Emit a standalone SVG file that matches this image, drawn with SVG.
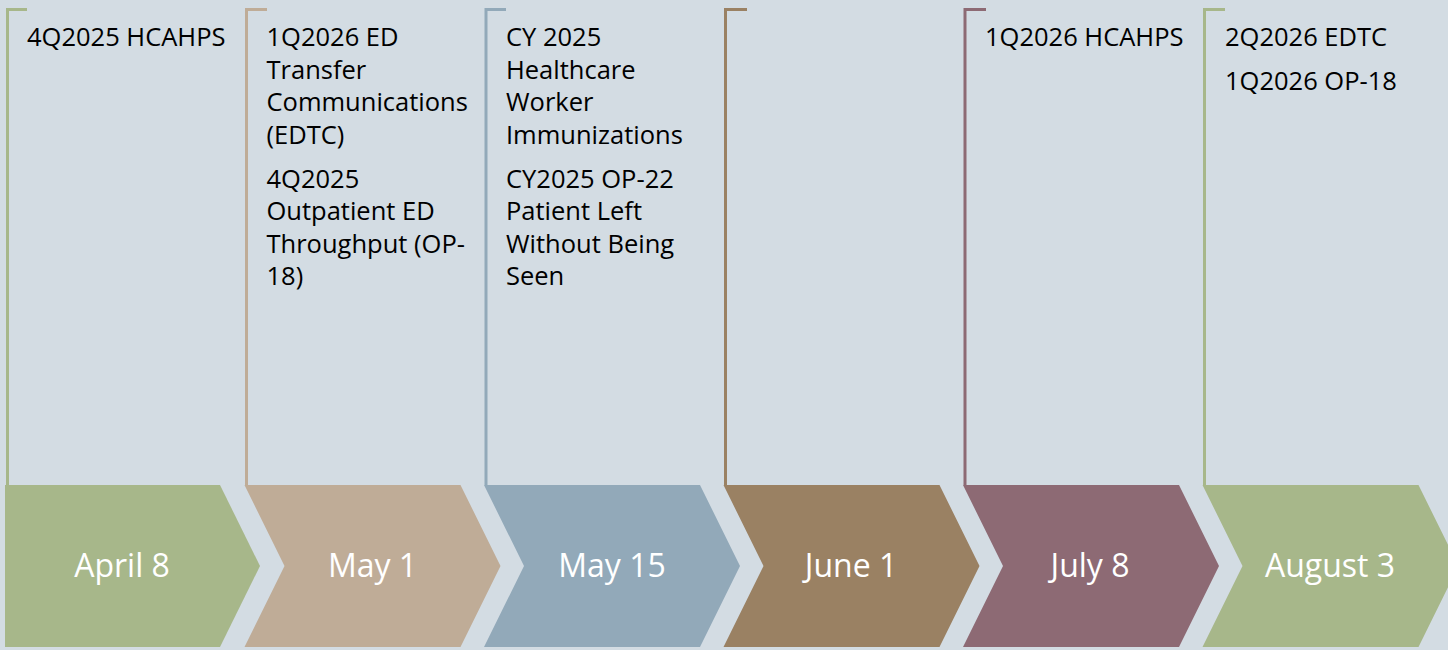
<svg xmlns="http://www.w3.org/2000/svg" width="1448" height="650" viewBox="0 0 1448 650">
<style>
.lbl{font-family:"Open Sans","Liberation Sans",sans-serif;font-size:25.5px;fill:#000}
.date{font-family:"Open Sans","Liberation Sans",sans-serif;font-size:32px;fill:#fff;text-anchor:middle}
.ln{fill:none;stroke-width:3}
</style>
<rect x="0" y="0" width="1448" height="650" fill="#D3DCE3"/>
<g id="node-april8">
<path class="ln" stroke="#A7B78A" d="M7.5 485V9.5H27"/>
<path d="M5 485H220L260 566L220 647H5Z" fill="#A7B78A"/>
<text class="date" x="122" y="577">April 8</text>
<text class="lbl" x="27" y="46">4Q2025 HCAHPS</text>
</g>
<g id="node-may1">
<path class="ln" stroke="#BFAC97" d="M246.5 485V9.5H267"/>
<path d="M244.5 485H460.5L500.5 566L460.5 647H244.5L284.5 566Z" fill="#BFAC97"/>
<text class="date" x="372.5" y="577">May 1</text>
<text class="lbl" x="266.5" y="46">1Q2026 ED</text>
<text class="lbl" x="266.5" y="78.5">Transfer</text>
<text class="lbl" x="266.5" y="111">Communications</text>
<text class="lbl" x="266.5" y="143.5">(EDTC)</text>
<text class="lbl" x="266.5" y="187.5">4Q2025</text>
<text class="lbl" x="266.5" y="220">Outpatient ED</text>
<text class="lbl" x="266.5" y="252.5">Throughput (OP-</text>
<text class="lbl" x="266.5" y="285">18)</text>
</g>
<g id="node-may15">
<path class="ln" stroke="#92A9B9" d="M486 485V9.5H506"/>
<path d="M484 485H700L740 566L700 647H484L524 566Z" fill="#92A9B9"/>
<text class="date" x="612" y="577">May 15</text>
<text class="lbl" x="506" y="46">CY 2025</text>
<text class="lbl" x="506" y="78.5">Healthcare</text>
<text class="lbl" x="506" y="111">Worker</text>
<text class="lbl" x="506" y="143.5">Immunizations</text>
<text class="lbl" x="506" y="187.5">CY2025 OP-22</text>
<text class="lbl" x="506" y="220">Patient Left</text>
<text class="lbl" x="506" y="252.5">Without Being</text>
<text class="lbl" x="506" y="285">Seen</text>
</g>
<g id="node-june1">
<path class="ln" stroke="#9A8163" d="M725.5 485V9.5H747"/>
<path d="M723.5 485H939.5L979.5 566L939.5 647H723.5L763.5 566Z" fill="#9A8163"/>
<text class="date" x="851" y="577">June 1</text>
</g>
<g id="node-july8">
<path class="ln" stroke="#8D6A74" d="M965 485V9.5H986"/>
<path d="M963 485H1179L1219 566L1179 647H963L1003 566Z" fill="#8D6A74"/>
<text class="date" x="1090" y="577">July 8</text>
<text class="lbl" x="985" y="46">1Q2026 HCAHPS</text>
</g>
<g id="node-august3">
<path class="ln" stroke="#A7B78A" d="M1204.5 485V9.5H1225"/>
<path d="M1202.5 485H1418.5L1458.5 566L1418.5 647H1202.5L1242.5 566Z" fill="#A7B78A"/>
<text class="date" x="1330" y="577">August 3</text>
<text class="lbl" x="1225" y="46">2Q2026 EDTC</text>
<text class="lbl" x="1225" y="90">1Q2026 OP-18</text>
</g>
<g id="connectors"/>
</svg>
